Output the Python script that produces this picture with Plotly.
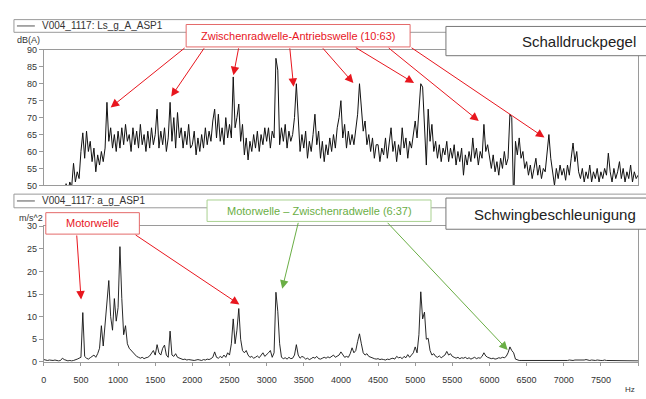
import plotly.graph_objects as go

# ---------------- data ----------------
FREQ_STEP_HZ = 25

# Schalldruckpegel, dB(A), one value per 25 Hz bin, 0 ... 8000 Hz
spl_dba = [
    40, 42, 41, 43, 42, 44, 43, 45, 44, 46, 45, 47, 50.5, 48, 51, 49.5, 56.5, 51, 54, 52,
    60, 65.5, 58, 66, 60, 63, 57, 61, 54, 59, 56, 60, 57, 61, 74.5, 63, 67, 61, 65, 60,
    66, 61, 67, 62, 68, 63, 65, 60, 67, 62, 66, 61, 68, 62, 65, 60, 66, 61, 67, 62,
    65, 72.5, 61, 66, 62, 67, 60, 64, 74.5, 63, 70, 61, 71.5, 64, 67, 61, 66, 62, 68, 61,
    62, 66, 59, 64, 60, 65, 61, 67, 62, 66, 63, 69, 72.5, 64, 71, 63, 67, 62, 70, 64,
    68, 64, 82, 67, 70, 74, 63, 68, 59, 64, 57.5, 63, 60, 65, 61, 66, 60, 65, 62, 67,
    63, 67, 61, 66, 64, 87.5, 84, 62, 67, 63, 68, 61, 66, 63, 65, 70, 80, 71, 60, 65,
    61, 66, 58, 63, 60, 65, 71, 62, 66, 58, 63, 57, 62, 59, 64, 60, 65, 61, 67, 70,
    75, 64, 68, 61, 66, 62, 65, 62, 66, 71, 80, 72, 66, 69, 62, 65, 60, 64, 58, 62,
    62, 57, 61, 59, 64, 58, 62, 67, 60, 63, 57, 62, 59, 67, 61, 64, 58, 63, 61, 66,
    69, 64, 72, 80, 79, 66, 56, 72.5, 63, 68, 60, 63, 58, 62, 57, 61, 59, 63, 57, 61,
    58, 62, 56, 60, 57, 61, 53, 59, 56, 60, 57, 64, 58, 61, 56, 60, 58, 68, 60, 62,
    58, 55, 59, 54, 57, 53, 58, 55, 60, 56, 58, 71, 70, 45, 63, 59, 64, 58, 60, 55,
    57, 53, 56, 52, 55, 58, 53, 56, 52, 55, 54, 60, 65, 58, 54, 50, 55, 52, 56, 53,
    55, 51.5, 56, 53, 58, 62.5, 57, 60, 54, 52, 55, 51, 54, 52, 56, 51, 54, 52, 55, 51,
    54, 52, 55, 53, 59.5, 54, 51, 55, 52, 54, 57, 52, 55, 51, 54, 52, 56, 51, 54, 52,
    53,
]

# Schwingbeschleunigung, m/s^2, one value per 25 Hz bin, 0 ... 8000 Hz
accel_ms2 = [
    0.5, 0.4, 0.3, 0.4, 0.3, 0.3, 0.4, 0.3, 0.2, 0.3, 0.8, 0.5, 0.3, 0.2, 0.3, 0.2, 0.3, 0.4, 0.6, 0.8,
    1.0, 10.9, 1.2, 0.8, 0.6, 0.9, 1.2, 1.5, 1.0, 1.8, 3.0, 8.0, 3.5, 9.0, 13.0, 18.0, 10.0, 7.0, 14.0, 9.0,
    12.0, 25.5, 14.0, 6.0, 8.0, 4.0, 3.0, 2.5, 2.0, 1.5, 1.2, 1.0, 0.8, 1.0, 0.7, 0.9, 1.0, 1.3, 1.8, 2.5,
    1.5, 3.8, 2.0, 1.5, 3.0, 3.7, 1.5, 1.0, 6.8, 1.5, 1.2, 1.8, 1.0, 0.8, 0.7, 0.5, 0.6, 0.4, 0.5, 0.4,
    0.4, 0.3, 0.4, 0.5, 0.4, 0.3, 0.5, 0.4, 0.6, 0.5, 0.7, 1.0, 2.2, 1.0, 0.8, 1.2, 0.9, 1.5, 1.0, 2.0,
    1.5, 4.0, 9.5, 4.0, 7.0, 11.8, 5.0, 2.5, 2.0, 2.5, 1.5, 1.0, 1.2, 0.8, 1.0, 1.3, 0.9, 1.5, 2.0, 1.2,
    1.5, 2.0, 2.5, 1.0, 2.0, 15.4, 11.2, 4.0, 1.0, 0.7, 0.9, 0.6, 1.0, 0.7, 0.8, 1.5, 3.8, 1.5, 0.8, 1.2,
    1.0, 0.6, 0.8, 0.5, 0.7, 1.0, 0.8, 1.2, 0.7, 0.6, 0.8, 1.0, 0.8, 1.1, 0.9, 1.2, 1.5, 1.0, 1.2, 1.5,
    2.2, 1.5, 1.0, 1.2, 1.0, 1.8, 3.1, 2.0, 2.5, 4.5, 6.2, 4.0, 2.0, 1.5, 1.8, 1.2, 1.0, 0.8, 0.7, 0.6,
    0.7, 0.5, 0.6, 0.5, 0.4, 0.6, 0.5, 0.7, 0.8, 0.6, 1.2, 0.9, 1.0, 0.7, 1.2, 0.9, 1.6, 1.0, 1.5, 2.0,
    3.3, 2.0, 6.0, 15.5, 9.5, 11.0, 5.0, 5.2, 2.5, 1.5, 1.8, 1.2, 1.0, 1.3, 0.9, 1.2, 1.5, 2.3, 1.5, 1.8,
    1.2, 1.0, 0.8, 1.0, 0.7, 0.9, 0.8, 1.0, 0.7, 0.9, 0.6, 0.8, 1.0, 0.7, 0.9, 0.8, 1.2, 2.0, 1.3, 1.0,
    0.8, 0.7, 0.8, 0.6, 0.7, 0.9, 0.8, 1.0, 0.9, 1.2, 2.0, 3.3, 2.5, 2.0, 0.6, 0.4, 0.3, 0.3, 0.3, 0.3,
    0.3, 0.3, 0.2, 0.3, 0.3, 0.2, 0.3, 0.3, 0.3, 0.2, 0.3, 0.3, 0.2, 0.3, 0.3, 0.3, 0.2, 0.3, 0.3, 0.3,
    0.3, 0.3, 0.3, 0.4, 0.3, 0.3, 0.4, 0.4, 0.3, 0.4, 0.3, 0.4, 0.5, 0.4, 0.3, 0.4, 0.3, 0.3, 0.4, 0.3,
    0.3, 0.3, 0.4, 0.3, 0.3, 0.3, 0.2, 0.3, 0.3, 0.3, 0.2, 0.3, 0.3, 0.2, 0.3, 0.3, 0.2, 0.3, 0.3, 0.2,
    0.2,
]

freq_hz = [i * FREQ_STEP_HZ for i in range(len(spl_dba))]

x_ticks = [0, 500, 1000, 1500, 2000, 2500, 3000, 3500, 4000, 4500,
           5000, 5500, 6000, 6500, 7000, 7500, 8000]
y1_ticks = [50, 55, 60, 65, 70, 75, 80, 85, 90]
y2_ticks = [0, 5, 10, 15, 20, 25, 30]

legend_top = "V004_1117: Ls_g_A_ASP1"
legend_bot = "V004_1117: a_g_ASP1"
title_top = "Schalldruckpegel"
title_bot = "Schwingbeschleunigung"
note_red_top = "Zwischenradwelle-Antriebswelle (10:63)"
note_red_bot = "Motorwelle"
note_green_bot = "Motorwelle – Zwischenradwelle (6:37)"

# arrows: (tip freq, tip value, tail freq, tail value) in data units
arrows_top = [
    (900, 73.0, 1916, 90.9),
    (1715, 76.2, 2171, 90.9),
    (2553, 82.5, 2626, 90.9),
    (3363, 79.1, 3310, 90.9),
    (4168, 80.2, 3740, 90.9),
    (4985, 80.2, 4181, 90.9),
    (5856, 69.0, 4623, 90.9),
    (6740, 64.1, 4931, 90.9),
]
arrows_bot_red = [
    (502, 13.8, 442, 28.3),
    (2633, 12.7, 1216, 28.3),
]
arrows_bot_green = [
    (3210, 16.2, 3430, 31.1),
    (6245, 2.6, 4610, 31.1),
]

# ---------------- figure ----------------
W, H = 646, 399


def X(px):
    return px / W


def Y(py):
    return 1 - py / H


RED = "#e8161e"
RED_BOX = "#e46a6a"
GREEN = "#6aae45"
GREEN_BOX = "#a9d190"
FRAME = "#9a9a9a"
FONT = "Liberation Sans, Arial, sans-serif"

fig = go.Figure()
fig.add_trace(go.Scatter(x=freq_hz, y=spl_dba, mode="lines",
                         line=dict(color="#111111", width=1.0),
                         xaxis="x", yaxis="y", hoverinfo="skip"))
fig.add_trace(go.Scatter(x=freq_hz, y=accel_ms2, mode="lines",
                         line=dict(color="#111111", width=0.9),
                         xaxis="x2", yaxis="y2", hoverinfo="skip"))

axis_common = dict(showline=True, mirror=True, linecolor=FRAME, linewidth=1,
                   showgrid=False, zeroline=False,
                   tickfont=dict(family=FONT, size=9, color="#333"))

fig.update_layout(
    width=W, height=H, autosize=False,
    margin=dict(l=0, r=0, t=0, b=0),
    paper_bgcolor="white", plot_bgcolor="white",
    showlegend=False,
    font=dict(family=FONT, size=9, color="#333"),
    xaxis=dict(domain=[X(41), X(638)], range=[0, 8000], anchor="y",
               showticklabels=False, ticks="", **axis_common),
    yaxis=dict(domain=[Y(185), Y(46)], range=[50, 90], anchor="x",
               tickvals=y1_ticks, ticks="outside", ticklen=4, tickcolor=FRAME,
               **axis_common),
    xaxis2=dict(domain=[X(41), X(638)], range=[0, 8000], anchor="y2",
                tickvals=x_ticks, ticks="outside", ticklen=3, tickcolor=FRAME,
                ticklabelstandoff=6, **axis_common),
    yaxis2=dict(domain=[Y(366), Y(227)], range=[0, 30], anchor="x2",
                tickvals=y2_ticks, ticks="outside", ticklen=4, tickcolor=FRAME,
                **axis_common),
)

shapes = []
# header strips with legend entries
for (y0, y1) in [(15, 28), (194, 208)]:
    shapes.append(dict(type="rect", xref="paper", yref="paper",
                       x0=X(11), x1=X(700), y0=Y(y1), y1=Y(y0),
                       line=dict(color=FRAME, width=1), fillcolor="white", layer="above"))
    ymid = (y0 + y1) / 2
    shapes.append(dict(type="line", xref="paper", yref="paper",
                       x0=X(14), x1=X(32), y0=Y(ymid), y1=Y(ymid),
                       line=dict(color="#555", width=1), layer="above"))
# title boxes
for (y0, y1) in [(22, 52), (198, 230)]:
    shapes.append(dict(type="rect", xref="paper", yref="paper",
                       x0=X(445), x1=X(700), y0=Y(y1), y1=Y(y0),
                       line=dict(color="#777", width=1), fillcolor="white", layer="above"))
# note boxes
shapes.append(dict(type="rect", xref="paper", yref="paper",
                   x0=X(184), x1=X(409), y0=Y(43), y1=Y(20),
                   line=dict(color=RED_BOX, width=1), fillcolor="white", layer="above"))
shapes.append(dict(type="rect", xref="paper", yref="paper",
                   x0=X(43), x1=X(137), y0=Y(235), y1=Y(213),
                   line=dict(color=RED_BOX, width=1), fillcolor="white", layer="above"))
shapes.append(dict(type="rect", xref="paper", yref="paper",
                   x0=X(205), x1=X(430), y0=Y(222), y1=Y(200),
                   line=dict(color=GREEN_BOX, width=1), fillcolor="white", layer="above"))
fig.update_layout(shapes=shapes)

ann = []
ann.append(dict(text=legend_top, x=X(37), y=Y(21.5), xref="paper", yref="paper",
                xanchor="left", yanchor="middle", showarrow=False,
                font=dict(family=FONT, size=10, color="#333")))
ann.append(dict(text=legend_bot, x=X(37), y=Y(201), xref="paper", yref="paper",
                xanchor="left", yanchor="middle", showarrow=False,
                font=dict(family=FONT, size=10, color="#333")))
ann.append(dict(text=title_top, x=X(638), y=Y(37), xref="paper", yref="paper",
                xanchor="right", yanchor="middle", showarrow=False,
                font=dict(family=FONT, size=15, color="#222")))
ann.append(dict(text=title_bot, x=X(638), y=Y(215), xref="paper", yref="paper",
                xanchor="right", yanchor="middle", showarrow=False,
                font=dict(family=FONT, size=15, color="#222")))
ann.append(dict(text=note_red_top, x=X(296.5), y=Y(31.5), xref="paper", yref="paper",
                xanchor="center", yanchor="middle", showarrow=False,
                font=dict(family=FONT, size=11, color=RED)))
ann.append(dict(text=note_red_bot, x=X(90), y=Y(224), xref="paper", yref="paper",
                xanchor="center", yanchor="middle", showarrow=False,
                font=dict(family=FONT, size=11, color=RED)))
ann.append(dict(text=note_green_bot, x=X(317.5), y=Y(211), xref="paper", yref="paper",
                xanchor="center", yanchor="middle", showarrow=False,
                font=dict(family=FONT, size=11, color=GREEN)))
ann.append(dict(text="dB(A)", x=X(12), y=Y(36), xref="paper", yref="paper",
                xanchor="left", yanchor="middle", showarrow=False,
                font=dict(family=FONT, size=9, color="#333")))
ann.append(dict(text="m/s^2", x=X(14), y=Y(218), xref="paper", yref="paper",
                xanchor="left", yanchor="middle", showarrow=False,
                font=dict(family=FONT, size=9, color="#333")))
ann.append(dict(text="Hz", x=X(630), y=Y(394), xref="paper", yref="paper",
                xanchor="center", yanchor="middle", showarrow=False,
                font=dict(family=FONT, size=8, color="#333")))


def arrow(tip_x, tip_y, tail_x, tail_y, xr, yr, color):
    return dict(text="", x=tip_x, y=tip_y, ax=tail_x, ay=tail_y,
                xref=xr, yref=yr, axref=xr, ayref=yr,
                showarrow=True, arrowhead=2, arrowsize=1.7, arrowwidth=1,
                arrowcolor=color, standoff=0)


for a in arrows_top:
    ann.append(arrow(*a, "x", "y", RED))
for a in arrows_bot_red:
    ann.append(arrow(*a, "x2", "y2", RED))
for a in arrows_bot_green:
    ann.append(arrow(*a, "x2", "y2", GREEN))

fig.update_layout(annotations=ann)

fig.write_html("out.html", config={"displayModeBar": False},
               post_script="document.body.style.margin='0';document.body.style.overflow='hidden';")
